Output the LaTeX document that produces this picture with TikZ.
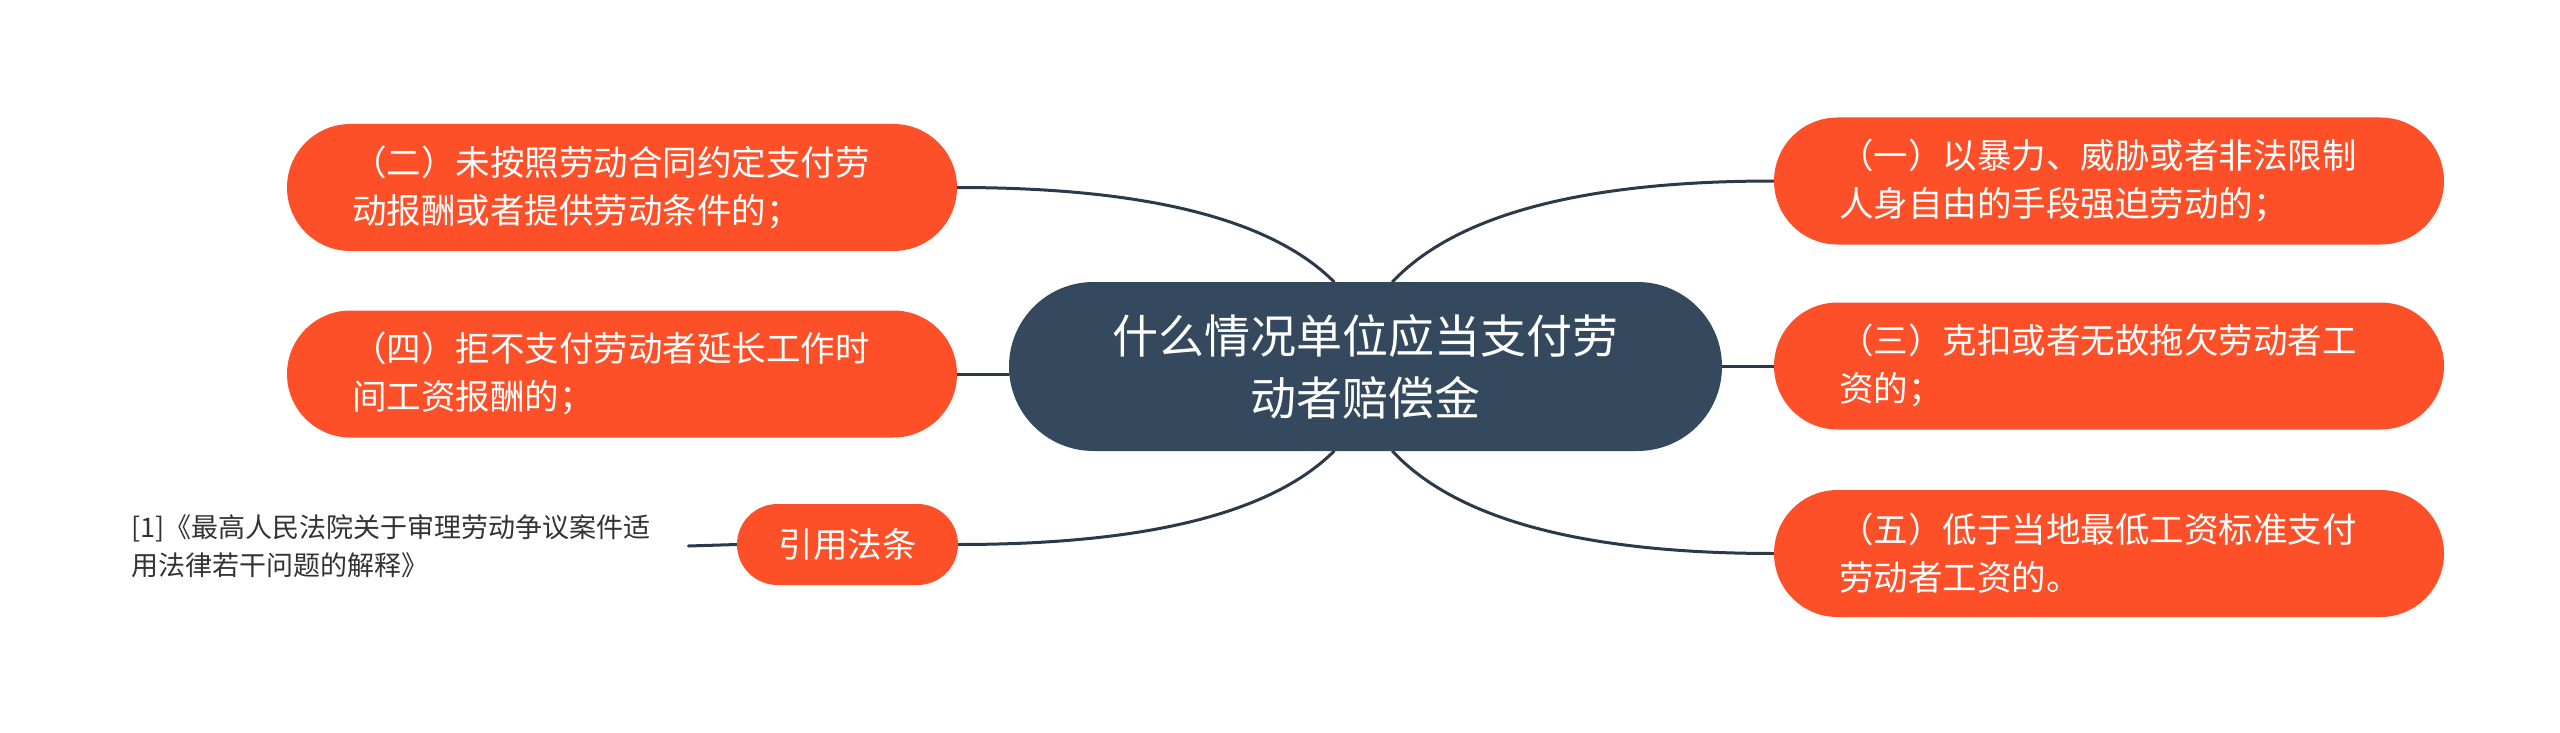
\documentclass[tikz,border=0pt]{standalone}
\usepackage{fontspec}
\newfontfamily\cjk{Noto Sans CJK SC}
\usetikzlibrary{calc,backgrounds}
\definecolor{leafc}{HTML}{FD5028}
\definecolor{rootc}{HTML}{34495E}
\definecolor{linec}{HTML}{2B3A4A}
\definecolor{refc}{HTML}{333333}
\tikzset{
  root/.style={rectangle, rounded corners=84.5pt, fill=rootc, text=white,
    minimum width=713pt, minimum height=169pt, inner sep=0pt, align=center,
    font=\cjk\fontsize{46}{62}\selectfont},
  leaf/.style={rectangle, rounded corners=63.5pt, fill=leafc, text=white,
    minimum height=127pt, text width=540pt, inner xsep=65pt, inner ysep=0pt,
    align=left, font=\cjk\fontsize{34.5}{48}\selectfont},
  cite/.style={rectangle, rounded corners=40.5pt, fill=leafc, text=white,
    minimum width=221pt, minimum height=81pt, inner sep=0pt, align=center,
    font=\cjk\fontsize{34.5}{48}\selectfont},
  reftext/.style={anchor=west, text width=557pt, inner sep=0pt, align=left,
    text=refc, font=\cjk\fontsize{27}{38}\selectfont},
  conn/.style={draw=linec, line width=3pt, line cap=round},
}
\begin{document}
\begin{tikzpicture}[x=1pt,y=-1pt]
\useasboundingbox (0,0) rectangle (2560,733);

\node[root] (c) at (1365.5,366.5) {什么情况单位应当支付劳\\动者赔偿金};
\node[leaf] (lt) at (622,187.5) {（二）未按照劳动合同约定支付劳\\动报酬或者提供劳动条件的；};
\node[leaf] (lm) at (622,374) {（四）拒不支付劳动者延长工作时\\间工资报酬的；};
\node[leaf] (rt) at (2109,181) {（一）以暴力、威胁或者非法限制\\人身自由的手段强迫劳动的；};
\node[leaf] (rm) at (2109,366) {（三）克扣或者无故拖欠劳动者工\\资的；};
\node[leaf] (rb) at (2109,553.5) {（五）低于当地最低工资标准支付\\劳动者工资的。};
\node[cite] (yy) at (847.5,544.5) {引用法条};
\node[reftext] (ref) at (131,546) {[1]《最高人民法院关于审理劳动争议案件适\\用法律若干问题的解释》};

\coordinate (cu1) at ($(c.north)+(-31.5,0)$);
\coordinate (cu2) at ($(c.north)+(27,0)$);
\coordinate (cd1) at ($(c.south)+(-31.5,0)$);
\coordinate (cd2) at ($(c.south)+(27,0)$);

\coordinate (q1) at ($(lt.east)!0.75!(lt.east -| cu1)$);
\coordinate (q2) at ($(rt.west)!0.75!(rt.west -| cu2)$);
\coordinate (q3) at ($(yy.east)!0.75!(yy.east -| cd1)$);
\coordinate (q4) at ($(rb.west)!0.75!(rb.west -| cd2)$);

\begin{scope}[on background layer]
\path[fill=white] (0,0) rectangle (2560,733);
\draw[conn] (lt.east) .. controls ($(lt.east)!0.5!(lt.east -| cu1)$) and ($(cu1)!0.6667!(q1)$) .. (cu1);
\draw[conn] (rt.west) .. controls ($(rt.west)!0.5!(rt.west -| cu2)$) and ($(cu2)!0.6667!(q2)$) .. (cu2);
\draw[conn] (yy.east) .. controls ($(yy.east)!0.5!(yy.east -| cd1)$) and ($(cd1)!0.6667!(q3)$) .. (cd1);
\draw[conn] (rb.west) .. controls ($(rb.west)!0.5!(rb.west -| cd2)$) and ($(cd2)!0.6667!(q4)$) .. (cd2);
\draw[conn] (c.west |- lm.east) -- (lm.east);
\draw[conn] (c.east |- rm.west) -- (rm.west);
\draw[conn] (ref.east) -- (yy.west);
\end{scope}
\end{tikzpicture}
\end{document}
